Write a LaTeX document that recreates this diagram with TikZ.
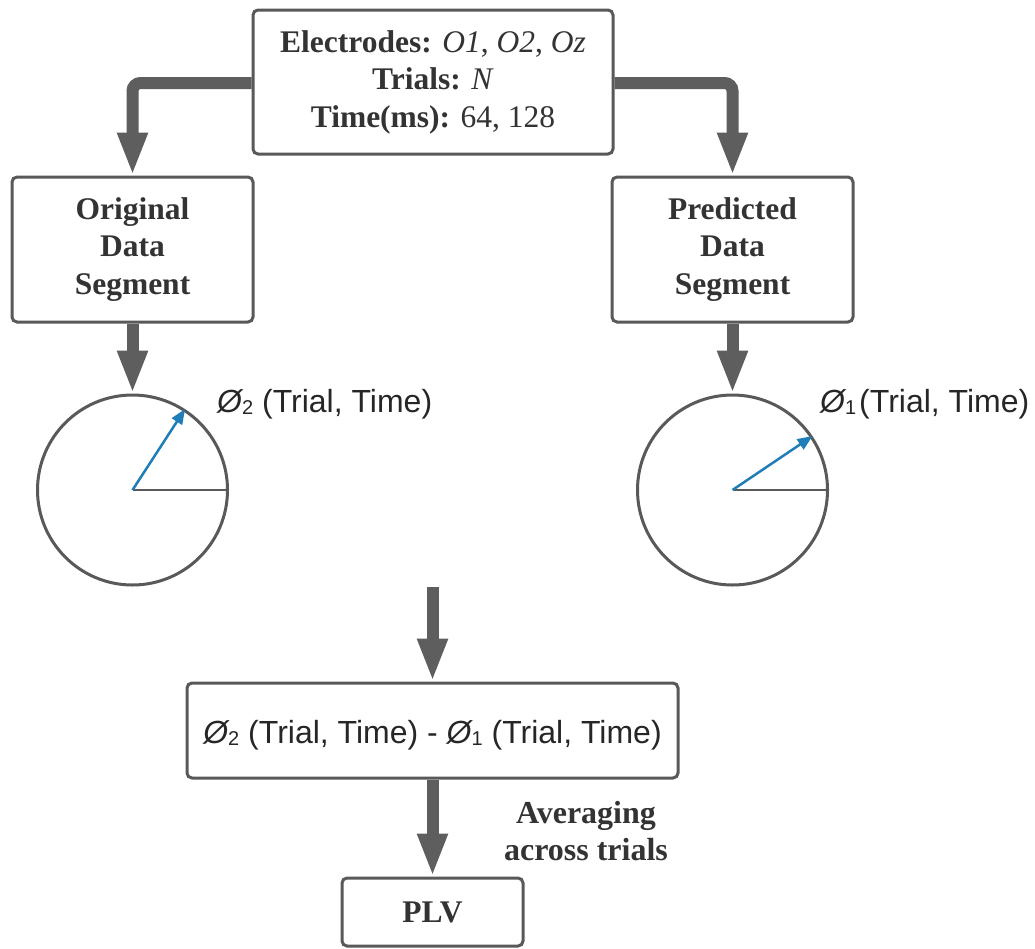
\documentclass[tikz,border=0pt]{standalone}
\usepackage{fontspec}
\setmainfont{Liberation Serif}
\setsansfont{Liberation Sans}
\usetikzlibrary{arrows.meta,calc}

\definecolor{linegray}{HTML}{5E5E5E}
\definecolor{boxgray}{HTML}{595959}
\definecolor{txtgray}{HTML}{333333}
\definecolor{phaseblue}{HTML}{1F7DB8}

% phase symbol with a small subscript index
\newcommand{\phasesym}[1]{{\itshape Ø}\raisebox{-2pt}{\fontsize{20}{20}\selectfont #1}}

\begin{document}
\begin{tikzpicture}[x=1pt,y=-1pt,
  box/.style={draw=boxgray, line width=3pt, rounded corners=5pt, fill=white,
    align=center, inner sep=0pt, text=txtgray,
    font=\fontsize{31.5}{37.5}\selectfont\bfseries},
  sansbox/.style={box, font=\sffamily\fontsize{32}{38}\selectfont, text=black!85},
  flow/.style={draw=linegray, line width=12pt, rounded corners=8pt,
    -{Triangle[width=28pt,length=43pt]}},
  dial/.style={circle, draw=boxgray, line width=3pt, minimum size=190pt, inner sep=0pt},
  radius/.style={draw=boxgray, line width=2pt},
  phase/.style={draw=phaseblue, line width=2.5pt, -{Triangle[width=12pt,length=15pt]}},
  phaselabel/.style={anchor=west, inner sep=0pt, text=black!85,
    font=\sffamily\fontsize{32}{38}\selectfont},
  note/.style={align=center, inner sep=0pt, text=txtgray,
    font=\fontsize{32}{37}\selectfont\bfseries}]

\useasboundingbox (0,0) rectangle (1035,948);

% recording parameters
\node[box, minimum width=360pt, minimum height=144pt] (src) at (433,82)
  {Electrodes: \textmd{\textit{O1}, \textit{O2}, \textit{Oz}}\\
   Trials: \textmd{\textit{N}}\\
   Time(ms): \textmd{64, 128}};

% the two data segments
\node[box, minimum width=241pt, minimum height=145pt] (orig) at (132.5,249.5)
  {Original\\Data\\Segment};
\node[box, minimum width=241pt, minimum height=145pt] (pred) at (732.5,249.5)
  {Predicted\\Data\\Segment};

\draw[flow] ([yshift=-1pt]src.west) -| (orig.north);
\draw[flow] ([yshift=-1pt]src.east) -| (pred.north);

% phase dials
\node[dial] (dorig) at (132.5,490) {};
\node[dial] (dpred) at (732.5,490) {};

\draw[flow] (orig.south) -- (dorig.north);
\draw[flow] (pred.south) -- (dpred.north);

\draw[radius] (dorig.center) -- (dorig.east);
\draw[radius] (dpred.center) -- (dpred.east);
\draw[phase] (dorig.center) -- (dorig.57);
\draw[phase] (dpred.center) -- (dpred.34);

\node[phaselabel] (lorig) at (217,404) {\phasesym{2} (Trial, Time)};
\node[phaselabel] (lpred) at (820,404) {\phasesym{1}\kern3pt(Trial, Time)};

% phase difference and averaging
\coordinate (merge) at (432.5,587);
\node[sansbox, minimum width=491pt, minimum height=95pt, text depth=0pt] (diff) at (432.5,730.5)
  {\raisebox{-3pt}{\phasesym{2} (Trial, Time) - \phasesym{1} (Trial, Time)}};
\node[box, minimum width=181pt, minimum height=68pt] (plv) at (432.5,912) {PLV};

\draw[flow] (merge) -- (diff.north);
\draw[flow] (diff.south) -- (plv.north);

\node[note] (avg) at (586,831) {Averaging\\across trials};

\end{tikzpicture}
\end{document}
